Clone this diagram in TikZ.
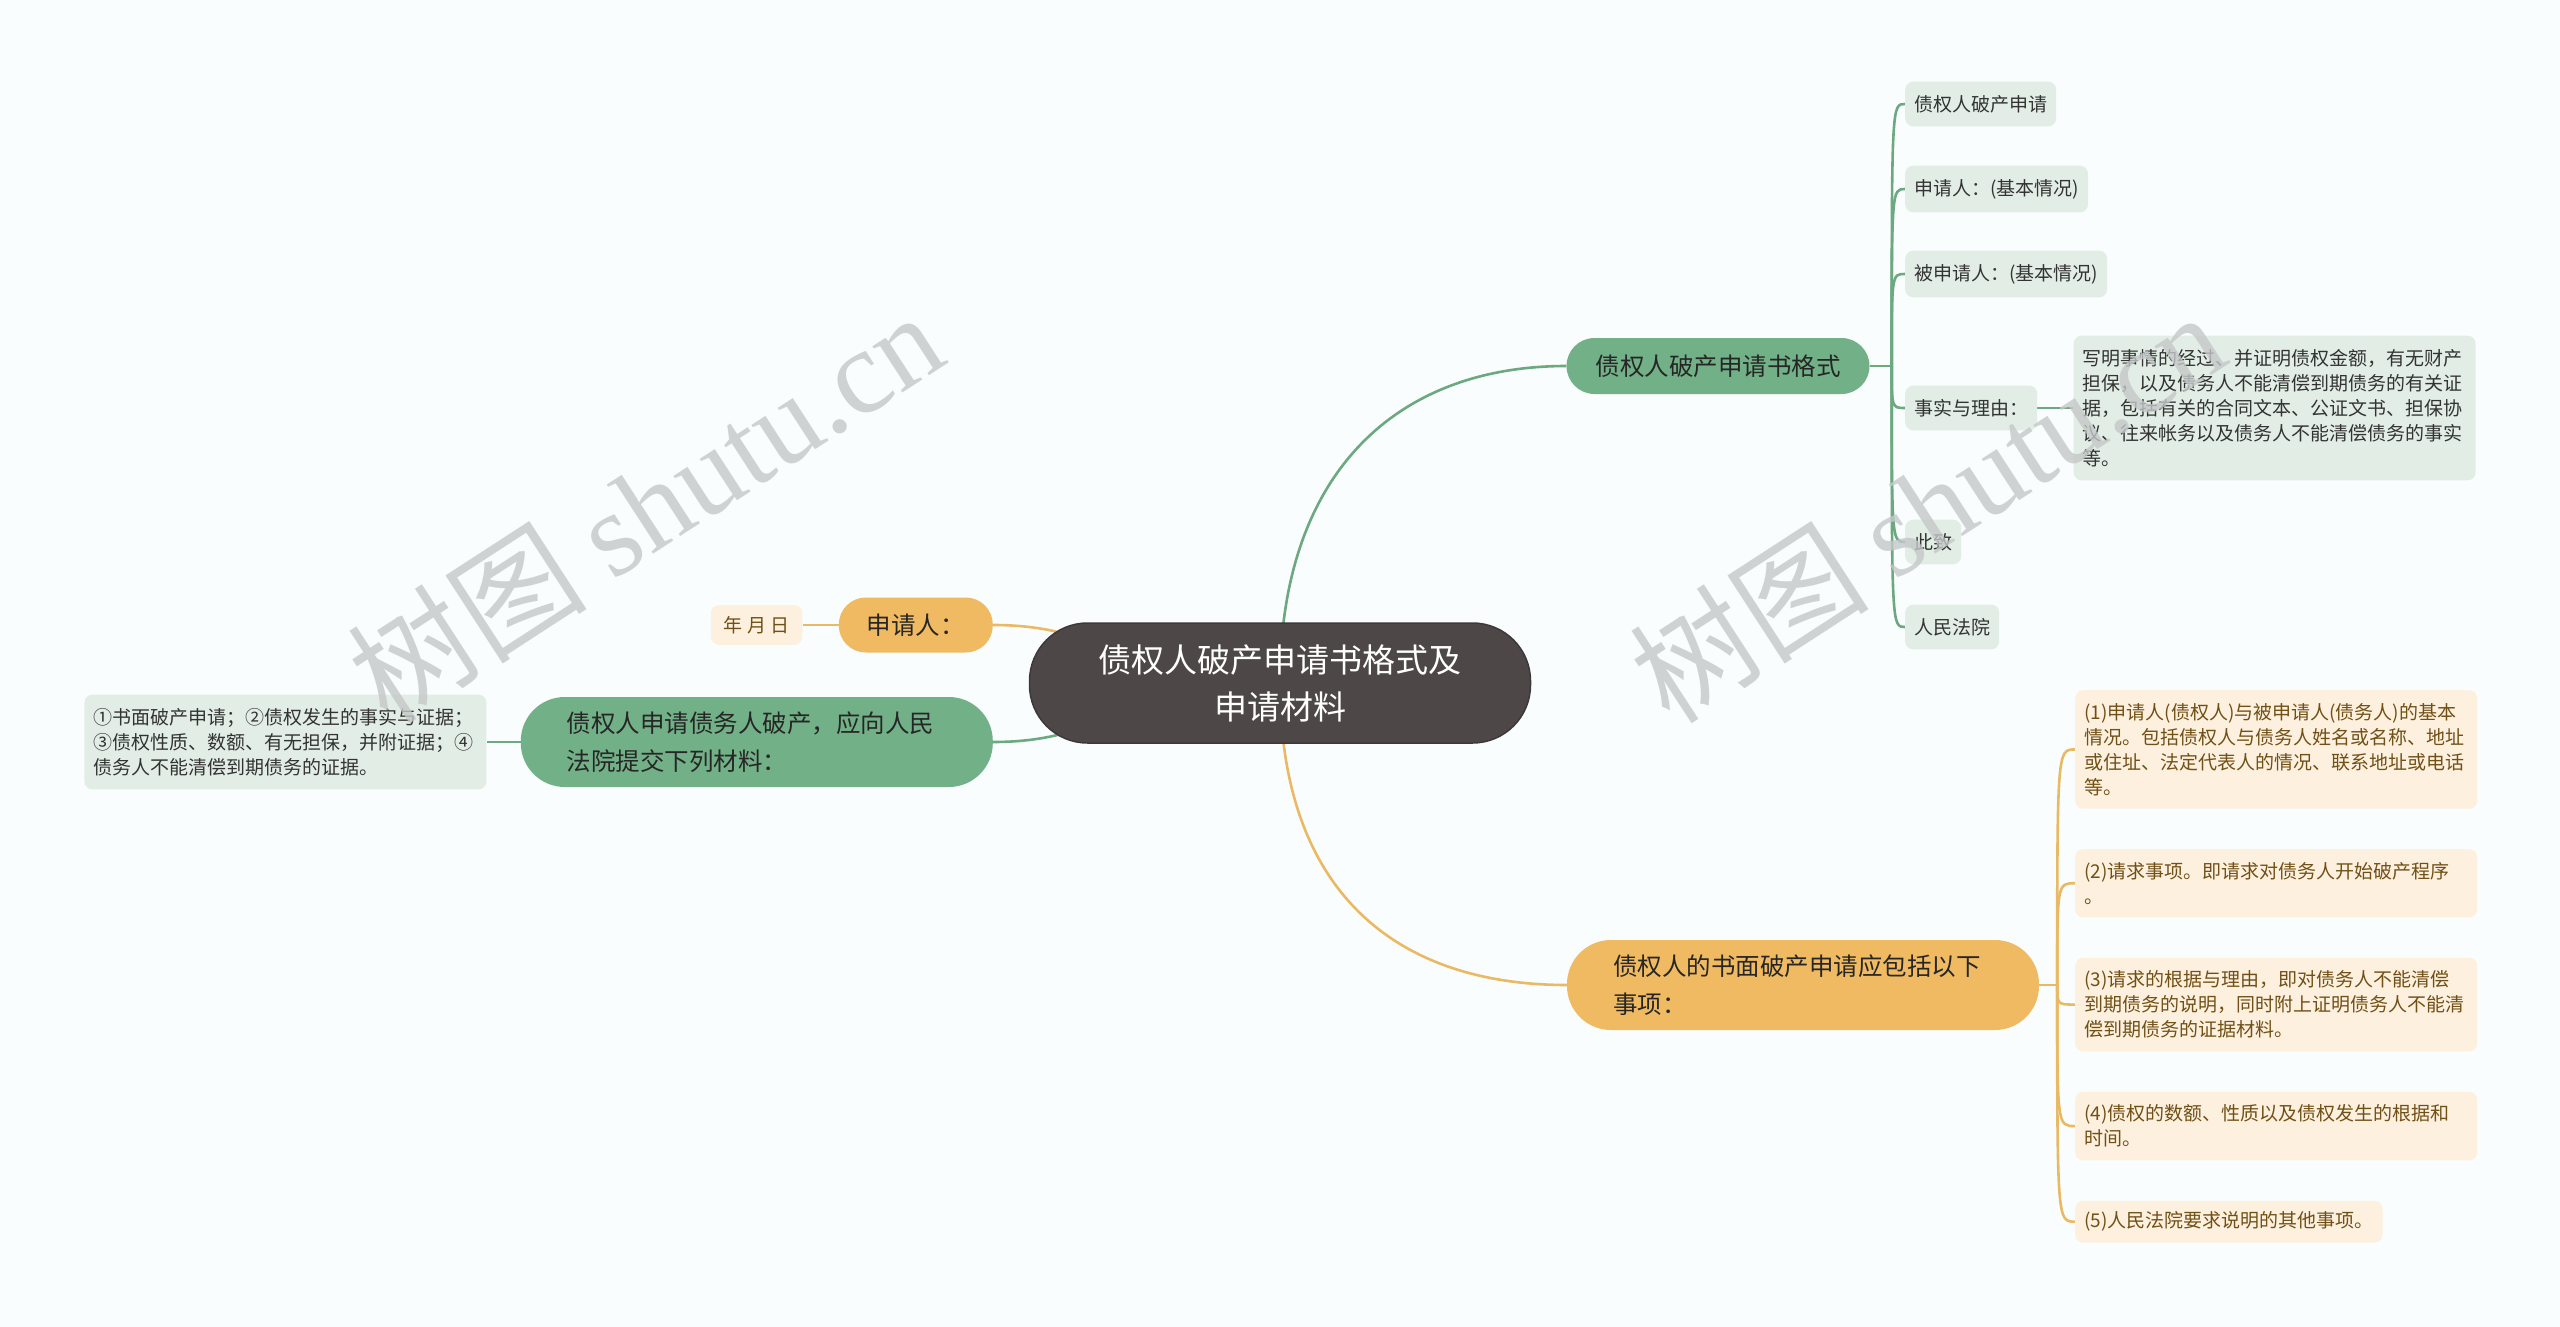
\documentclass[tikz,border=0pt]{standalone}
\usepackage{fontspec}
\setmainfont{Noto Sans CJK SC}
\newfontfamily\marcafont{Liberation Serif}
\usetikzlibrary{positioning}
\definecolor{fondo}{RGB}{249,253,253}
\definecolor{grisraiz}{RGB}{77,71,71}
\definecolor{verde}{RGB}{114,176,135}
\definecolor{verdeclaro}{RGB}{226,238,229}
\definecolor{lineaverde}{RGB}{108,168,128}
\definecolor{naranja}{RGB}{240,186,98}
\definecolor{naranjaclaro}{RGB}{253,240,222}
\definecolor{lineanaranja}{RGB}{234,185,100}
\definecolor{marron}{RGB}{112,80,22}
\definecolor{grismarca}{RGB}{196,200,201}
\pgfdeclarelayer{capafondo}
\pgfdeclarelayer{lineas}
\pgfsetlayers{capafondo,lineas,main}

\begin{document}
\begin{tikzpicture}[x=1pt,y=-1pt,
  node distance=36pt,
  centro/.style={fill=grisraiz,draw=grisraiz!80!black,line width=1.5pt,rounded corners=58pt,
              minimum width=501pt,minimum height=120pt,align=center,text=white,
              font=\fontsize{33}{47}\selectfont},
  ramaverde/.style={fill=verde,rounded corners=28pt,minimum height=56pt,inner xsep=29pt,
              text=black!85,font=\fontsize{24.5}{38}\selectfont},
  ramanaranja/.style={fill=naranja,rounded corners=27pt,minimum height=55pt,inner xsep=28pt,
              text=black!85,font=\fontsize{24.5}{38}\selectfont},
  ramalarga/.style={rounded corners=44pt,minimum height=90pt,inner xsep=46pt,text width=380pt,
              align=left,text=black!85,font=\fontsize{24.5}{38}\selectfont},
  hojaverde/.style={fill=verdeclaro,rounded corners=8pt,inner xsep=9pt,inner ysep=13.5pt,
              align=left,text=black!80,font=\fontsize{19}{25}\selectfont},
  hojanaranja/.style={fill=naranjaclaro,rounded corners=8pt,inner xsep=9pt,inner ysep=13pt,
              align=left,text=marron,font=\fontsize{19}{25}\selectfont},
  ancho/.style={text width=384pt},
  lv/.style={draw=lineaverde,line width=2.6pt},
  ln/.style={draw=lineanaranja,line width=2.6pt},
  marca/.style={text=grismarca,opacity=0.8,rotate=33,font=\fontsize{120}{120}\selectfont}
]
\useasboundingbox (0,0) rectangle (2560,1327);
\begin{pgfonlayer}{capafondo}
\fill[fondo] (0,0) rectangle (2560,1327);
\end{pgfonlayer}

% raiz
\node[centro] (c) at (1280,683) {债权人破产申请书格式及\\申请材料};

% rama derecha arriba
\node[ramaverde] (gm) at (1718,366) {债权人破产申请书格式};
\coordinate[right=22pt of gm.east] (gt);
\node[hojaverde,anchor=west] (g1) at (1905,104) {债权人破产申请};
\node[hojaverde,anchor=west] (g2) at (1905,189) {申请人：(基本情况)};
\node[hojaverde,anchor=west] (g3) at (1905,274) {被申请人：(基本情况)};
\node[hojaverde,anchor=west] (g4) at (1905,408) {事实与理由：};
\node[hojaverde,anchor=west] (g5) at (1905,542) {此致};
\node[hojaverde,anchor=west] (g6) at (1905,627) {人民法院};
\node[hojaverde,ancho,right=of g4] (g4t) {写明事情的经过、并证明债权金额，有无财产\\担保，以及债务人不能清偿到期债务的有关证\\据，包括有关的合同文本、公证文书、担保协\\议、往来帐务以及债务人不能清偿债务的事实\\等。};

% rama derecha abajo
\node[ramalarga,fill=naranja] (om) at (1803,985) {债权人的书面破产申请应包括以下\\事项：};
\coordinate[right=18pt of om.east] (ot);
\node[hojanaranja,ancho,anchor=north west] (o1) at (2075,690) {(1)申请人(债权人)与被申请人(债务人)的基本\\情况。包括债权人与债务人姓名或名称、地址\\或住址、法定代表人的情况、联系地址或电话\\等。};
\node[hojanaranja,ancho,below=40pt of o1.south west,anchor=north west] (o2) {(2)请求事项。即请求对债务人开始破产程序\\。};
\node[hojanaranja,ancho,below=40pt of o2.south west,anchor=north west] (o3) {(3)请求的根据与理由，即对债务人不能清偿\\到期债务的说明，同时附上证明债务人不能清\\偿到期债务的证据材料。};
\node[hojanaranja,ancho,below=40pt of o3.south west,anchor=north west] (o4) {(4)债权的数额、性质以及债权发生的根据和\\时间。};
\node[hojanaranja,inner ysep=11pt,below=40pt of o4.south west,anchor=north west] (o5) {(5)人民法院要求说明的其他事项。};

% rama izquierda
\node[ramanaranja,anchor=east] (sq) at (993,625) {申请人：};
\node[hojanaranja,inner xsep=13pt,inner ysep=11pt,left=of sq] (ymd) {年 月 日};
\node[ramalarga,fill=verde,anchor=east] (lm) at (993,742) {债权人申请债务人破产，应向人民\\法院提交下列材料：};
\node[hojaverde,ancho,left=34pt of lm] (lt) {①书面破产申请；②债权发生的事实与证据；\\③债权性质、数额、有无担保，并附证据；④\\债务人不能清偿到期债务的证据。};

\begin{pgfonlayer}{lineas}
\draw[lv] (c.center) .. controls +(0,-210) and +(-170,0) .. (gm.west);
\draw[ln] (c.center) .. controls +(0,210) and +(-170,0) .. (om.west);
\draw[ln] (c.center) .. controls +(-160,0) and +(120,0) .. (sq.east);
\draw[lv] (c.center) .. controls +(-160,0) and +(120,0) .. (lm.east);
\draw[ln] (sq) -- (ymd);
\draw[lv] (lm) -- (lt);
\draw[lv] (gm.east) -- (gt);
\foreach \i in {1,...,6}
  \draw[lv] (gt) .. controls (gt |- g\i.west) .. (g\i.west);
\draw[lv] (g4) -- (g4t);
\draw[ln] (om.east) -- (ot);
\foreach \i in {1,...,5}
  \draw[ln] (ot) .. controls (ot |- o\i.west) .. (o\i.west);
\end{pgfonlayer}

% marca de agua
\node[marca] (wm1) at (645,506) {树图 {\marcafont shutu.cn}};
\node[marca] (wm2) at (1927,506) {树图 {\marcafont shutu.cn}};
\end{tikzpicture}
\end{document}
